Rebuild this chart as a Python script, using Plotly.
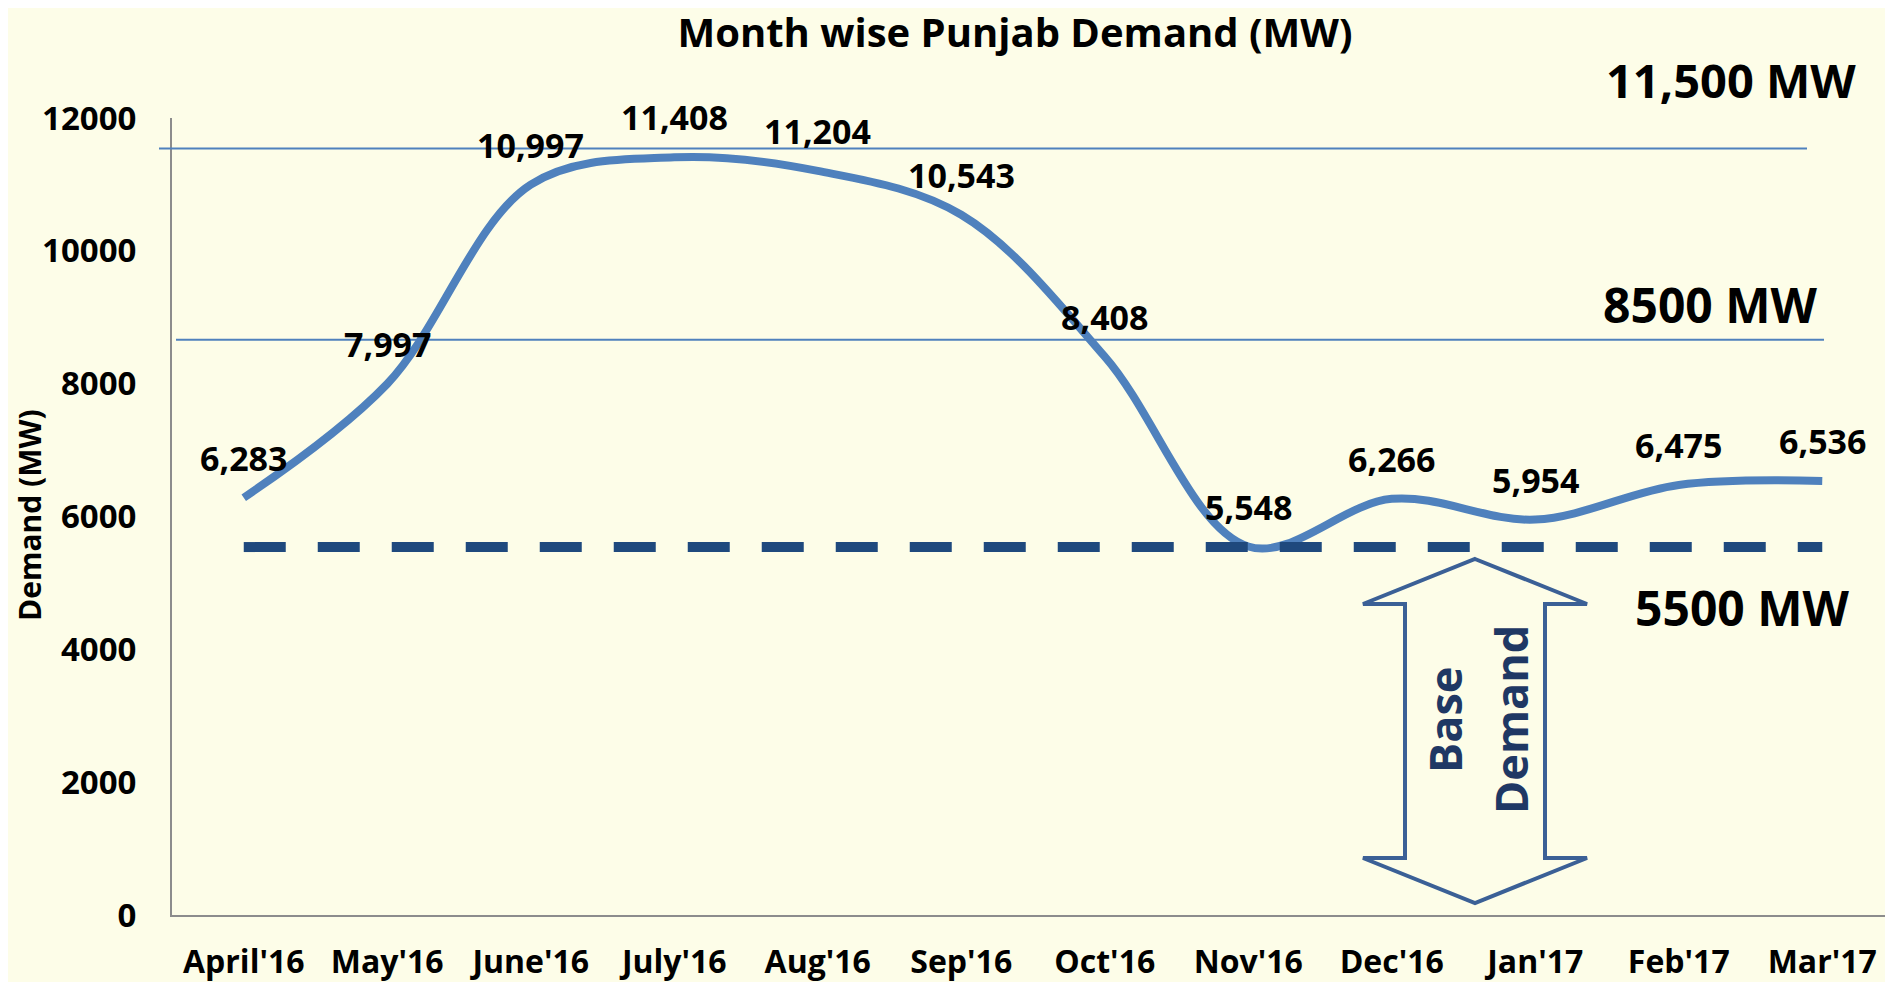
import plotly.graph_objects as go

months = ["April'16", "May'16", "June'16", "July'16", "Aug'16", "Sep'16",
          "Oct'16", "Nov'16", "Dec'16", "Jan'17", "Feb'17", "Mar'17"]
demand = [6283, 7997, 10997, 11408, 11204, 10543, 8408, 5548, 6266, 5954, 6475, 6536]

# reference levels as drawn in the picture
peak_level = 11540
mid_level = 8660
base_level = 5540

y_ticks = [0, 2000, 4000, 6000, 8000, 10000, 12000]

bg = '#FDFDE8'
font = 'Open Sans'

# page body has an 8px margin, figure starts at (8, 8) in the window
OFF = 8
W, H = 1893, 982
L, R, T, B = 164, 7, 110, 75
PW, PH = W - L - R, H - T - B


# decoration helpers: window pixel -> paper
def px(x):
    return (x - OFF - L) / PW


def py(y):
    return (H - B - (y - OFF)) / PH


fig = go.Figure()

fig.add_trace(go.Scatter(x=months, y=demand, mode='lines',
                         line=dict(color='#4F81BD', width=8, shape='spline', smoothing=1)))

fig.add_trace(go.Scatter(x=[months[0], months[-1]], y=[base_level, base_level],
                         mode='lines',
                         line=dict(color='#1F497D', width=10, dash='42px,32px'),
                         hoverinfo='skip'))

# thin reference lines
fig.add_shape(type='line', xref='paper', yref='y', x0=px(159), x1=px(1807),
              y0=peak_level, y1=peak_level, line=dict(color='#4F81BD', width=2))
fig.add_shape(type='line', xref='paper', yref='y', x0=px(176), x1=px(1824),
              y0=mid_level, y1=mid_level, line=dict(color='#4F81BD', width=2))

# double arrow "Base Demand"
pts = [(1475, 559), (1587, 604), (1545, 604), (1545, 858), (1587, 858), (1475, 903),
       (1363, 858), (1405, 858), (1405, 604), (1363, 604)]
path = 'M ' + ' L '.join(f'{px(a):.5f},{py(b):.5f}' for a, b in pts) + ' Z'
fig.add_shape(type='path', xref='paper', yref='paper', path=path,
              line=dict(color='#3B6096', width=4), fillcolor=bg, layer='above')


def paper_text(text, x, y, size, color='black', angle=0):
    fig.add_annotation(x=px(x), y=py(y), xref='paper', yref='paper', text=text,
                       xanchor='center', yanchor='middle', textangle=angle, showarrow=False,
                       borderpad=0,
                       font=dict(family=font, size=size, color=color, weight='bold'))


paper_text('Base', 1444, 720, 45, '#1F3864', -90)
paper_text('Demand', 1510, 720, 45, '#1F3864', -90)

# data labels
for m, v in zip(months, demand):
    fig.add_annotation(x=m, y=v, text=f'{v:,}', showarrow=False, yshift=40,
                       xanchor='center', yanchor='middle',
                       font=dict(family=font, size=34, color='black', weight='bold'))

# level labels
for text, x, y, size in [('11,500 MW', 1731, 80, 47), ('8500 MW', 1710, 304, 48),
                         ('5500 MW', 1742, 607, 48)]:
    paper_text(text, x, y, size)

paper_text('Demand (MW)', 30, 515, 30, angle=-90)

fig.update_layout(
    width=W, height=H,
    margin=dict(l=L, r=R, t=T, b=B),
    paper_bgcolor=bg, plot_bgcolor=bg,
    showlegend=False,
    title=dict(text='Month wise Punjab Demand (MW)', x=(1015 - OFF) / W, y=1 - (33 - OFF) / H,
               xanchor='center', yanchor='middle',
               font=dict(family=font, size=40, color='black', weight='bold')),
)
fig.update_xaxes(type='category', categoryorder='array', categoryarray=months,
                 range=[-0.5, 11.5], showgrid=False, zeroline=False, showline=True,
                 automargin=False,
                 linecolor='#8C8C8C', linewidth=2, ticks='', ticklabelstandoff=18,
                 tickfont=dict(family=font, size=32, color='black', weight='bold'))
fig.update_yaxes(range=[0, 12000], tickvals=y_ticks, showgrid=False, zeroline=False,
                 showline=True, automargin=False,
                 linecolor='#8C8C8C', linewidth=2, ticks='', ticklabelstandoff=27,
                 tickformat='d', tickfont=dict(family=font, size=33, color='black', weight='bold'))

fig.write_html("out.html")
